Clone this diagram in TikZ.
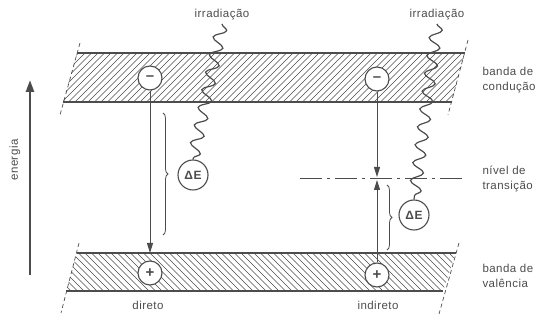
\documentclass[tikz,border=0pt]{standalone}
\usepackage{fontspec}
\setmainfont{Liberation Sans}[LetterSpace=4]
\usetikzlibrary{arrows.meta,decorations.pathmorphing,decorations.pathreplacing}
\definecolor{ink}{gray}{0.3}
\tikzset{
  carrier/.style={circle,draw=ink,fill=white,line width=1.1pt,minimum size=24pt,inner sep=0pt,text=ink,font=\fontsize{15}{15}\bfseries},
  quantum/.style={carrier,minimum size=30pt,font=\fontsize{12}{12}\bfseries},
  bandedge/.style={draw=ink,line width=1.3pt},
  bandcut/.style={draw=ink,line width=0.7pt,dash pattern=on 4pt off 3pt},
  hatch/.style={draw=ink,line width=0.6pt},
  jump/.style={draw=ink,line width=1pt,-{Triangle[length=10pt,width=6pt]}},
  photon/.style={draw=ink,line width=1.2pt,decorate,decoration={snake,amplitude=6pt,segment length=18pt}},
  gapbrace/.style={draw=ink,line width=0.8pt,decorate,decoration={brace,amplitude=5pt}},
  translevel/.style={draw=ink,line width=0.9pt,dash pattern=on 22pt off 5pt on 3pt off 5pt},
  bandtext/.style={text=ink,align=left,anchor=west}
}
\begin{document}
\begin{tikzpicture}[x=1pt,y=-1pt,font=\fontsize{11.5}{15}\selectfont]
  \useasboundingbox (0,0) rectangle (539,320);
  \coordinate (cA) at (77,53);
  \coordinate (cB) at (465,53);
  \coordinate (cC) at (452,102);
  \coordinate (cD) at (63,102);
  \coordinate (vA) at (77,253);
  \coordinate (vB) at (456,253);
  \coordinate (vC) at (443,291);
  \coordinate (vD) at (66,291);
  \begin{scope}
    \clip (cA) -- (cB) -- (cC) -- (cD) -- cycle;
    \foreach \s in {10,16.5,...,470} \draw[hatch] (\s,102) -- ++(49,-49);
  \end{scope}
  \begin{scope}
    \clip (vA) -- (vB) -- (vC) -- (vD) -- cycle;
    \foreach \s in {20,26.5,...,460} \draw[hatch] (\s,253) -- ++(38,38);
  \end{scope}
  \draw[bandedge] (cA) -- (cB);
  \draw[bandedge] (cD) -- (cC);
  \draw[bandedge] (vA) -- (vB);
  \draw[bandedge] (vD) -- (vC);
  \draw[bandcut] (80,43) -- (60,115);
  \draw[bandcut] (468,40) -- (448,115);
  \draw[bandcut] (79,243) -- (61,313);
  \draw[bandcut] (459,243) -- (439,314);

  \draw[ink,line width=2.5pt,-{Triangle[length=12pt,width=8pt]}] (30,275) -- (30,80);
  \node[rotate=90,text=ink] (en) at (15,160) {energia};

  \coordinate (tA) at (300,178);
  \coordinate (tB) at (462,178);
  \draw[translevel] (tA) -- (tB);

  \node[carrier] (e1) at (150,78) {--};
  \node[carrier] (e2) at (377,79) {--};
  \node[carrier] (h1) at (150,273) {+};
  \node[carrier] (h2) at (377,275) {+};
  \node[quantum] (d1) at (193,175) {ΔE};
  \node[quantum] (d2) at (414,215) {ΔE};

  \node[text=ink] (r1) at (222,15) {irradiação};
  \node[text=ink] (r2) at (437,15) {irradiação};
  \draw[photon] (r1.south) -- (d1.north);
  \draw[photon] (r2.south) -- (d2.north);

  \coordinate (l1) at (150,253);
  \coordinate (t1) at (377,177);
  \coordinate (t2) at (377,180);
  \draw[jump] (e1) -- (l1);
  \draw[jump] (e2) -- (t1);
  \draw[jump] (h2) -- (t2);
  \draw[gapbrace] (163,113) -- (163,235);
  \draw[gapbrace] (387,185) -- (387,250);

  \node[text=ink] (n1) at (148,305) {direto};
  \node[text=ink] (n2) at (378,305) {indireto};
  \node[bandtext] (bc) at (479,80) {banda de\\condução};
  \node[bandtext] (nt) at (479,179) {nível de\\transição};
  \node[bandtext] (bv) at (479,276) {banda de\\valência};
\end{tikzpicture}
\end{document}
